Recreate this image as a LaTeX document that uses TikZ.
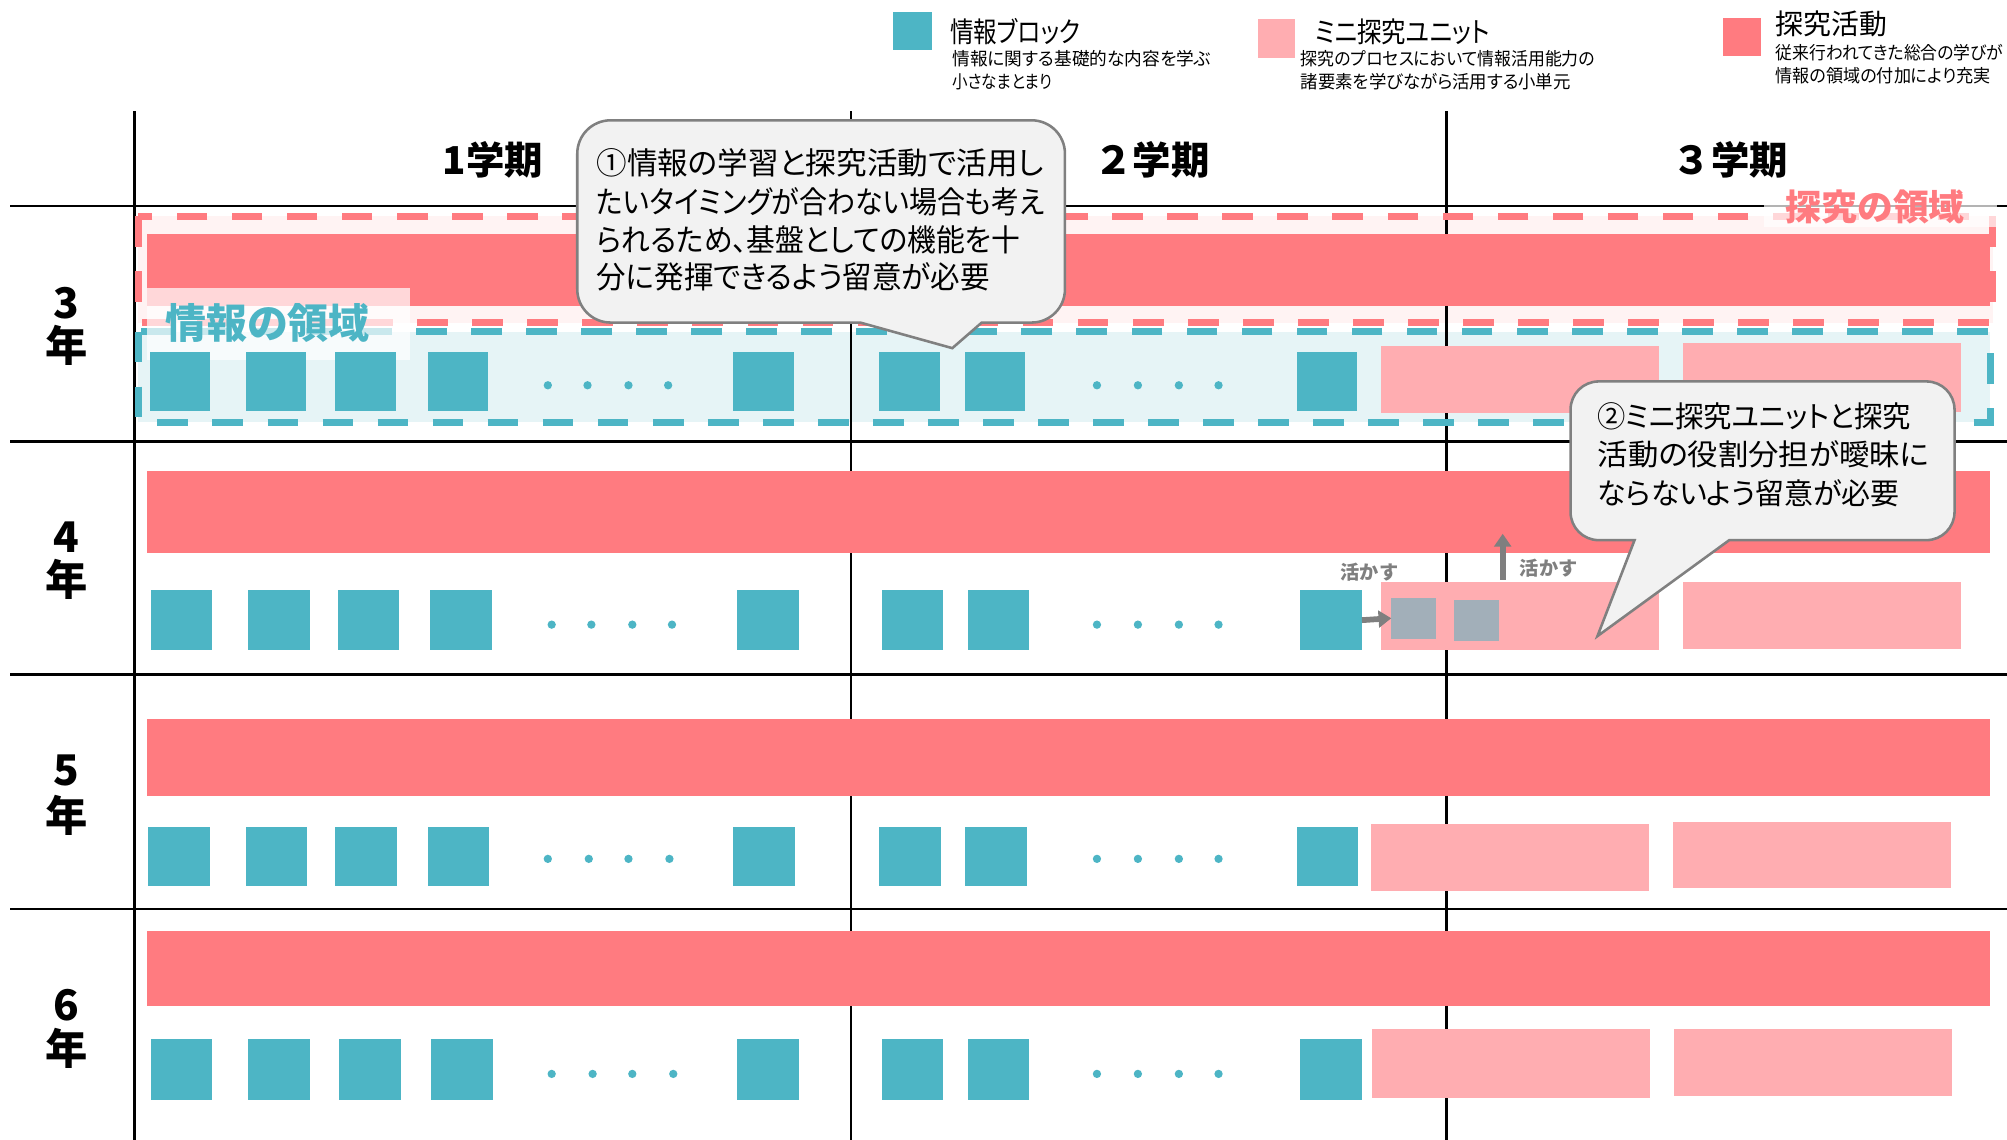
\documentclass[tikz,border=0pt]{standalone}
\usepackage{fontspec}
\usepackage{graphicx}
\setmainfont{Noto Sans CJK JP}
\newfontfamily\cjkp{Noto Sans CJK JP}[RawFeature=+palt]
\usetikzlibrary{arrows.meta}
\definecolor{tealb}{HTML}{4DB5C5}
\definecolor{redt}{HTML}{FF7B80}
\definecolor{pinkm}{HTML}{FFADB1}
\definecolor{lteal}{HTML}{E6F4F6}
\definecolor{lpink}{HTML}{FFF3F3}
\definecolor{grays}{HTML}{A2AFB9}
\definecolor{arrg}{HTML}{7F7F7F}
\definecolor{callf}{HTML}{F2F2F2}
\definecolor{callb}{HTML}{808080}
\newcommand\fitw[2]{\resizebox{#1}{\height}{#2}}
\newcommand\jf[1]{\cjkp\fontsize{#1}{#1}\selectfont}
\begin{document}
\begin{tikzpicture}[x=1pt,y=-1pt,
 blk/.style={fill=tealb,inner sep=0pt,outer sep=0pt,minimum width=48pt,minimum height=47pt,anchor=north west},
 mini/.style={fill=pinkm,inner sep=0pt,outer sep=0pt,minimum width=217pt,minimum height=53pt,anchor=north west},
 bar/.style={fill=redt,inner sep=0pt,outer sep=0pt,minimum width=1440pt,anchor=north west},
 gsq/.style={fill=grays,inner sep=0pt,outer sep=0pt,minimum width=35pt,minimum height=32pt,anchor=north west},
 dotn/.style={circle,fill=tealb,inner sep=0pt,minimum size=6.5pt},
 gridl/.style={line width=2pt,black},
 dashb/.style={line width=5.5pt,dash pattern=on 24pt off 19pt},
 garrow/.style={draw=arrg,line width=4.5pt,-{Triangle[length=10pt,width=13pt]}},
 callout/.style={fill=callf,draw=callb,line width=2pt},
 hdr/.style={font=\bfseries\fontsize{30}{30}\selectfont,inner sep=0pt},
 yr/.style={font=\bfseries\fontsize{33}{33}\selectfont,inner sep=0pt},
 lgsq/.style={inner sep=0pt,outer sep=0pt,minimum width=30pt,minimum height=30pt,anchor=north west},
 txt/.style={inner sep=0pt,anchor=west},
 ikasu/.style={font=\bfseries\fontsize{15}{15}\selectfont,text=arrg,inner sep=0pt}
]
\useasboundingbox (0,0) rectangle (1568,890);

% light region fills
\fill[lpink] (108,169) rectangle (1557,252);
\fill[lteal] (108,259) rectangle (1555,330);

% grid
\draw[gridl] (8,161) -- (1570,161);
\draw[gridl] (8,345) -- (1570,345);
\draw[gridl] (8,527) -- (1570,527);
\draw[gridl] (8,710) -- (1570,710);
\draw[gridl] (105,87) -- (105,892);
\draw[gridl] (665,87) -- (665,892);
\draw[gridl] (1130,87) -- (1130,892);

% dashed region borders
\draw[dashb,draw=redt] (108,169) rectangle (1557,252);
\draw[dashb,draw=tealb] (108,259) rectangle (1555,330);

% red bars
\node[bar,minimum height=56pt] (r3) at (115,183) {};
\node[bar,minimum height=64pt] (r4) at (115,368) {};
\node[bar,minimum height=60pt] (r5) at (115,562) {};
\node[bar,minimum height=59pt] (r6) at (115,727) {};

% white veil behind the information-area label
\fill[white,opacity=0.7] (115,225) rectangle (320,281);

% teal blocks
\foreach \x [count=\i] in {117,192,262,334,573,687,754,1013}
  \node[blk,minimum width=47pt,minimum height=46pt] (t3-\i) at (\x,275) {};
\foreach \x [count=\i] in {118,194,264,336,576,689,756,1016}
  \node[blk] (t4-\i) at (\x,461) {};
\foreach \x [count=\i] in {116,192,262,334,573,687,754,1013}
  \node[blk,minimum height=46pt] (t5-\i) at (\x,646) {};
\foreach \x [count=\i] in {118,194,265,337,576,689,756,1016}
  \node[blk] (t6-\i) at (\x,812) {};

% dots
\foreach \x [count=\i] in {428,459,491,522,857,889,921,952}
  \node[dotn] (d3-\i) at (\x,301) {};
\foreach \x [count=\i] in {431,462,494,525,857,889,921,952}
  \node[dotn] (d4-\i) at (\x,488) {};
\foreach \x [count=\i] in {428,460,491,523,857,889,921,952}
  \node[dotn] (d5-\i) at (\x,671) {};
\foreach \x [count=\i] in {431,463,494,526,857,889,921,952}
  \node[dotn] (d6-\i) at (\x,839) {};

% mini inquiry units
\node[mini] (m3a) at (1079,270) {};
\node[mini,minimum height=54pt] (m3b) at (1315,268) {};
\node[mini] (m4a) at (1079,455) {};
\node[mini,minimum height=52pt] (m4b) at (1315,455) {};
\node[mini,minimum height=52pt] (m5a) at (1071,644) {};
\node[mini,minimum height=52pt] (m5b) at (1307,642) {};
\node[mini,minimum height=54pt] (m6a) at (1072,804) {};
\node[mini,minimum height=52pt] (m6b) at (1308,804) {};

% gray squares
\node[gsq] (g1) at (1087,467) {};
\node[gsq] (g2) at (1136,469) {};

% arrows
\draw[garrow] (t4-8.east) -- (g1.west);
\coordinate (u0) at (1174,453);
\coordinate (u1) at (1174,417);
\draw[garrow] (u0) -- (u1);
\node[ikasu] (k1) at (1070,447) {活かす};
\node[ikasu] (k2) at (1210,444) {活かす};

% region labels
\fill[white,opacity=0.7] (1378,149) rectangle (1560,177);
\node[font=\bfseries\fontsize{28}{28}\selectfont,text=redt,inner sep=0pt] (lab1) at (1465,162) {探究の領域};
\node[font=\bfseries\fontsize{32}{32}\selectfont,text=tealb,inner sep=0pt] (lab2) at (209,252) {情報の領域};

% headers
\node[hdr] (h1) at (385,125) {1学期};
\node[hdr] (h2) at (900,125) {２学期};
\node[hdr] (h3) at (1352,125) {３学期};

% year labels
\node[yr] (y3n) at (52,237) {3};
\node[yr] (y3k) at (52,270) {年};
\node[yr] (y4n) at (52,420) {4};
\node[yr] (y4k) at (52,453) {年};
\node[yr] (y5n) at (52,602) {5};
\node[yr] (y5k) at (52,637) {年};
\node[yr] (y6n) at (52,785) {6};
\node[yr] (y6k) at (52,819) {年};

% legend
\node[lgsq,fill=tealb] (lg1) at (698,9) {};
\node[lgsq,fill=pinkm,minimum width=29pt] (lg2) at (983,15) {};
\node[lgsq,fill=redt] (lg3) at (1346,14) {};
\node[txt] (lt1) at (742,25) {\fitw{102pt}{\jf{22}情報ブロック}};
\node[txt] (ls1) at (744,46) {\fitw{202pt}{\jf{14}情報に関する基礎的な内容を学ぶ}};
\node[txt] (ls2) at (744,64) {\fitw{78pt}{\jf{14}小さなまとまり}};
\node[txt] (lt2) at (1027,25) {\fitw{137pt}{\jf{22}ミニ探究ユニット}};
\node[txt] (ls3) at (1016,46) {\fitw{230pt}{\jf{14}探究のプロセスにおいて情報活用能力の}};
\node[txt] (ls4) at (1016,64) {\fitw{211pt}{\jf{14}諸要素を学びながら活用する小単元}};
\node[txt] (lt3) at (1387,19) {\fitw{87pt}{\jf{22}探究活動}};
\node[txt] (ls5) at (1387,41) {\fitw{178pt}{\jf{14}従来行われてきた総合の学びが}};
\node[txt] (ls6) at (1387,59) {\fitw{168pt}{\jf{14}情報の領域の付加により充実}};

% callout 1
\draw[callout] (477,94) -- (806,94) arc[start angle=90,end angle=0,radius=26pt]
  -- (832,226) arc[start angle=0,end angle=-90,radius=26pt]
  -- (767,252) -- (744,272) -- (672,252)
  -- (477,252) arc[start angle=-90,end angle=-180,radius=26pt]
  -- (451,120) arc[start angle=180,end angle=90,radius=26pt] -- cycle;
\node[txt] (c1a) at (466,127) {\fitw{349pt}{\jf{24}①情報の学習と探究活動で活用し}};
\node[txt] (c1b) at (466,158) {\fitw{350pt}{\jf{24}たいタイミングが合わない場合も考え}};
\node[txt] (c1c) at (466,187) {\fitw{331pt}{\jf{24}られるため、基盤としての機能を十}};
\node[txt] (c1d) at (466,216) {\fitw{307pt}{\jf{24}分に発揮できるよう留意が必要}};

% callout 2
\draw[callout] (1249,298) -- (1505,298) arc[start angle=90,end angle=0,radius=22pt]
  -- (1527,400) arc[start angle=0,end angle=-90,radius=22pt]
  -- (1351,422) -- (1248,497) -- (1277,422)
  -- (1249,422) arc[start angle=-90,end angle=-180,radius=22pt]
  -- (1227,320) arc[start angle=180,end angle=90,radius=22pt] -- cycle;
\node[txt] (c2a) at (1248,325) {\fitw{245pt}{\jf{23}②ミニ探究ユニットと探究}};
\node[txt] (c2b) at (1248,355) {\fitw{259pt}{\jf{23}活動の役割分担が曖昧に}};
\node[txt] (c2c) at (1248,385) {\fitw{236pt}{\jf{23}ならないよう留意が必要}};
\end{tikzpicture}
\end{document}
